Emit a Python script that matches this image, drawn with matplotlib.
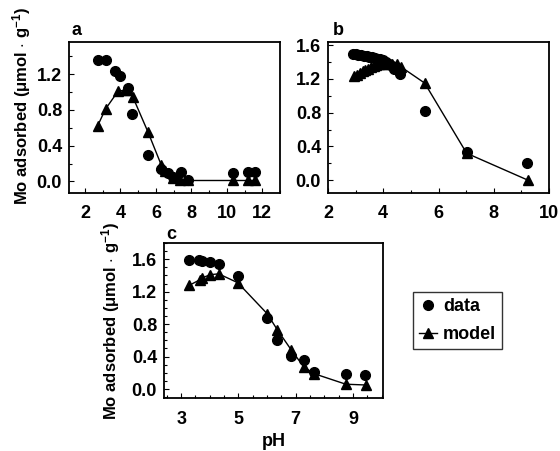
import matplotlib
matplotlib.use("Agg")
import matplotlib.pyplot as plt
from matplotlib.ticker import MultipleLocator

plt.rcParams['font.family'] = ['Liberation Sans', 'DejaVu Sans']
plt.rcParams['font.weight'] = 'bold'
plt.rcParams['mathtext.fontset'] = 'custom'
plt.rcParams['mathtext.rm'] = 'Liberation Sans:bold'
plt.rcParams['mathtext.bf'] = 'Liberation Sans:bold'
plt.rcParams['mathtext.default'] = 'bf'

# Panel a
a_data_x = [2.71, 3.18, 3.72, 3.95, 4.4, 4.68, 5.56, 6.3, 6.68, 6.96, 7.39, 7.8, 10.33, 11.17, 11.6]
a_data_y = [1.36, 1.36, 1.24, 1.18, 1.04, 0.75, 0.30, 0.14, 0.09, 0.05, 0.10, 0.02, 0.09, 0.10, 0.10]
a_model_x = [2.71, 3.16, 3.87, 4.25, 4.43, 4.71, 5.56, 6.31, 6.5, 6.96, 7.34, 7.8, 10.33, 11.17, 11.6]
a_model_y = [0.62, 0.81, 1.01, 1.02, 1.02, 0.94, 0.55, 0.18, 0.12, 0.04, 0.02, 0.01, 0.01, 0.01, 0.01]

# Panel b
b_data_x = [2.9, 3.0, 3.1, 3.2, 3.3, 3.4, 3.5, 3.6, 3.7, 3.8, 3.9, 4.0, 4.1, 4.2, 4.3, 4.4, 4.6, 5.52, 7.02, 9.22]
b_data_y = [1.49, 1.49, 1.48, 1.48, 1.47, 1.47, 1.46, 1.46, 1.45, 1.44, 1.43, 1.42, 1.40, 1.38, 1.35, 1.32, 1.26, 0.82, 0.33, 0.20]
b_model_x = [2.94, 3.05, 3.15, 3.25, 3.35, 3.45, 3.55, 3.65, 3.75, 3.85, 3.95, 4.1, 4.3, 4.5, 4.65, 5.5, 7.02, 9.25]
b_model_y = [1.23, 1.25, 1.27, 1.29, 1.31, 1.32, 1.34, 1.35, 1.36, 1.37, 1.38, 1.38, 1.38, 1.37, 1.34, 1.15, 0.32, 0.0]

# Panel c
c_data_x = [3.29, 3.61, 3.73, 4.02, 4.31, 4.98, 6.0, 6.33, 6.85, 7.29, 7.64, 8.75, 9.43]
c_data_y = [1.59, 1.59, 1.58, 1.56, 1.54, 1.39, 0.87, 0.61, 0.41, 0.36, 0.21, 0.19, 0.17]
c_model_x = [3.29, 3.67, 3.73, 4.02, 4.31, 4.98, 6.0, 6.36, 6.85, 7.29, 7.64, 8.75, 9.46]
c_model_y = [1.28, 1.35, 1.37, 1.41, 1.42, 1.31, 0.93, 0.73, 0.48, 0.27, 0.19, 0.06, 0.05]

ylabel = r"Mo adsorbed ($\mu$mol $\cdot$ g$^{-1}$)"

W, H = 560, 451
fig = plt.figure(figsize=(W / 100, H / 100), dpi=100)

def box(x0, y0, x1, y1):
    return [x0 / W, 1 - y1 / H, (x1 - x0) / W, (y1 - y0) / H]

def style(ax, xlim, ylim, xmaj, xmin, ymaj, ymin):
    ax.set_xlim(*xlim)
    ax.set_ylim(*ylim)
    ax.xaxis.set_major_locator(MultipleLocator(xmaj))
    ax.xaxis.set_minor_locator(MultipleLocator(xmin))
    ax.yaxis.set_major_locator(MultipleLocator(ymaj))
    ax.yaxis.set_minor_locator(MultipleLocator(ymin))
    ax.tick_params(which='both', direction='in', top=False, right=False,
                   labelsize=13, width=0.8)
    ax.tick_params(which='major', length=3.5)
    ax.tick_params(axis='y', which='major', pad=5)
    ax.tick_params(axis='x', which='major', pad=9)
    ax.tick_params(which='minor', length=2)
    ax.yaxis.set_major_formatter(matplotlib.ticker.FormatStrFormatter('%.1f'))
    for s in ax.spines.values():
        s.set_linewidth(1.3)
    for lbl in ax.get_xticklabels() + ax.get_yticklabels():
        lbl.set_fontweight('bold')

def draw(ax, dx, dy, mx, my):
    ax.plot(mx, my, '-', color='black', lw=1.0, marker='^', ms=6.5, zorder=2)
    ax.plot(dx, dy, 'o', color='black', ms=7, ls='none', zorder=3)

ax1 = fig.add_axes(box(69, 42, 280, 193))
draw(ax1, a_data_x, a_data_y, a_model_x, a_model_y)
style(ax1, (1.1, 13.0), (-0.13, 1.56), 2, 1, 0.4, 0.2)
ax1.set_ylabel(ylabel, fontsize=12, fontweight='bold')
ax1.yaxis.set_label_coords(-0.171, 0.576)
ax1.text(0.01, 1.02, 'a', transform=ax1.transAxes, fontsize=13, fontweight='bold', ha='left', va='bottom')

ax2 = fig.add_axes(box(328, 42, 549, 193))
draw(ax2, b_data_x, b_data_y, b_model_x, b_model_y)
style(ax2, (2.0, 10.0), (-0.15, 1.636), 2, 1, 0.4, 0.2)
ax2.text(0.02, 1.02, 'b', transform=ax2.transAxes, fontsize=13, fontweight='bold', ha='left', va='bottom')

ax3 = fig.add_axes(box(164, 243, 383, 398))
l1, = ax3.plot(c_model_x, c_model_y, '-', color='black', lw=1.0, marker='^', ms=6.5, zorder=2, label='model')
l0, = ax3.plot(c_data_x, c_data_y, 'o', color='black', ms=7, ls='none', zorder=3, label='data')
style(ax3, (2.4, 10.05), (-0.11, 1.80), 2, 0.5, 0.4, 0.1)
ax3.set_ylabel(ylabel, fontsize=12, fontweight='bold')
ax3.yaxis.set_label_coords(-0.192, 0.494)
ax3.set_xlabel('pH', fontsize=13, fontweight='bold', labelpad=4)
ax3.xaxis.set_major_locator(matplotlib.ticker.FixedLocator([3, 5, 7, 9]))
ax3.text(0.01, 1.0, 'c', transform=ax3.transAxes, fontsize=13, fontweight='bold', ha='left', va='bottom')

leg = fig.legend([l0, l1], ['data', 'model'], loc='upper left',
                 bbox_to_anchor=(413 / W, 1 - 292 / H), frameon=True, fancybox=False,
                 edgecolor='black', prop={'weight': 'bold', 'size': 13},
                 handlelength=1.0, handletextpad=0.3, borderpad=0.35, labelspacing=0.6,
                 borderaxespad=0)
leg.get_frame().set_linewidth(1.0)

fig.savefig('out.png', dpi=100)
